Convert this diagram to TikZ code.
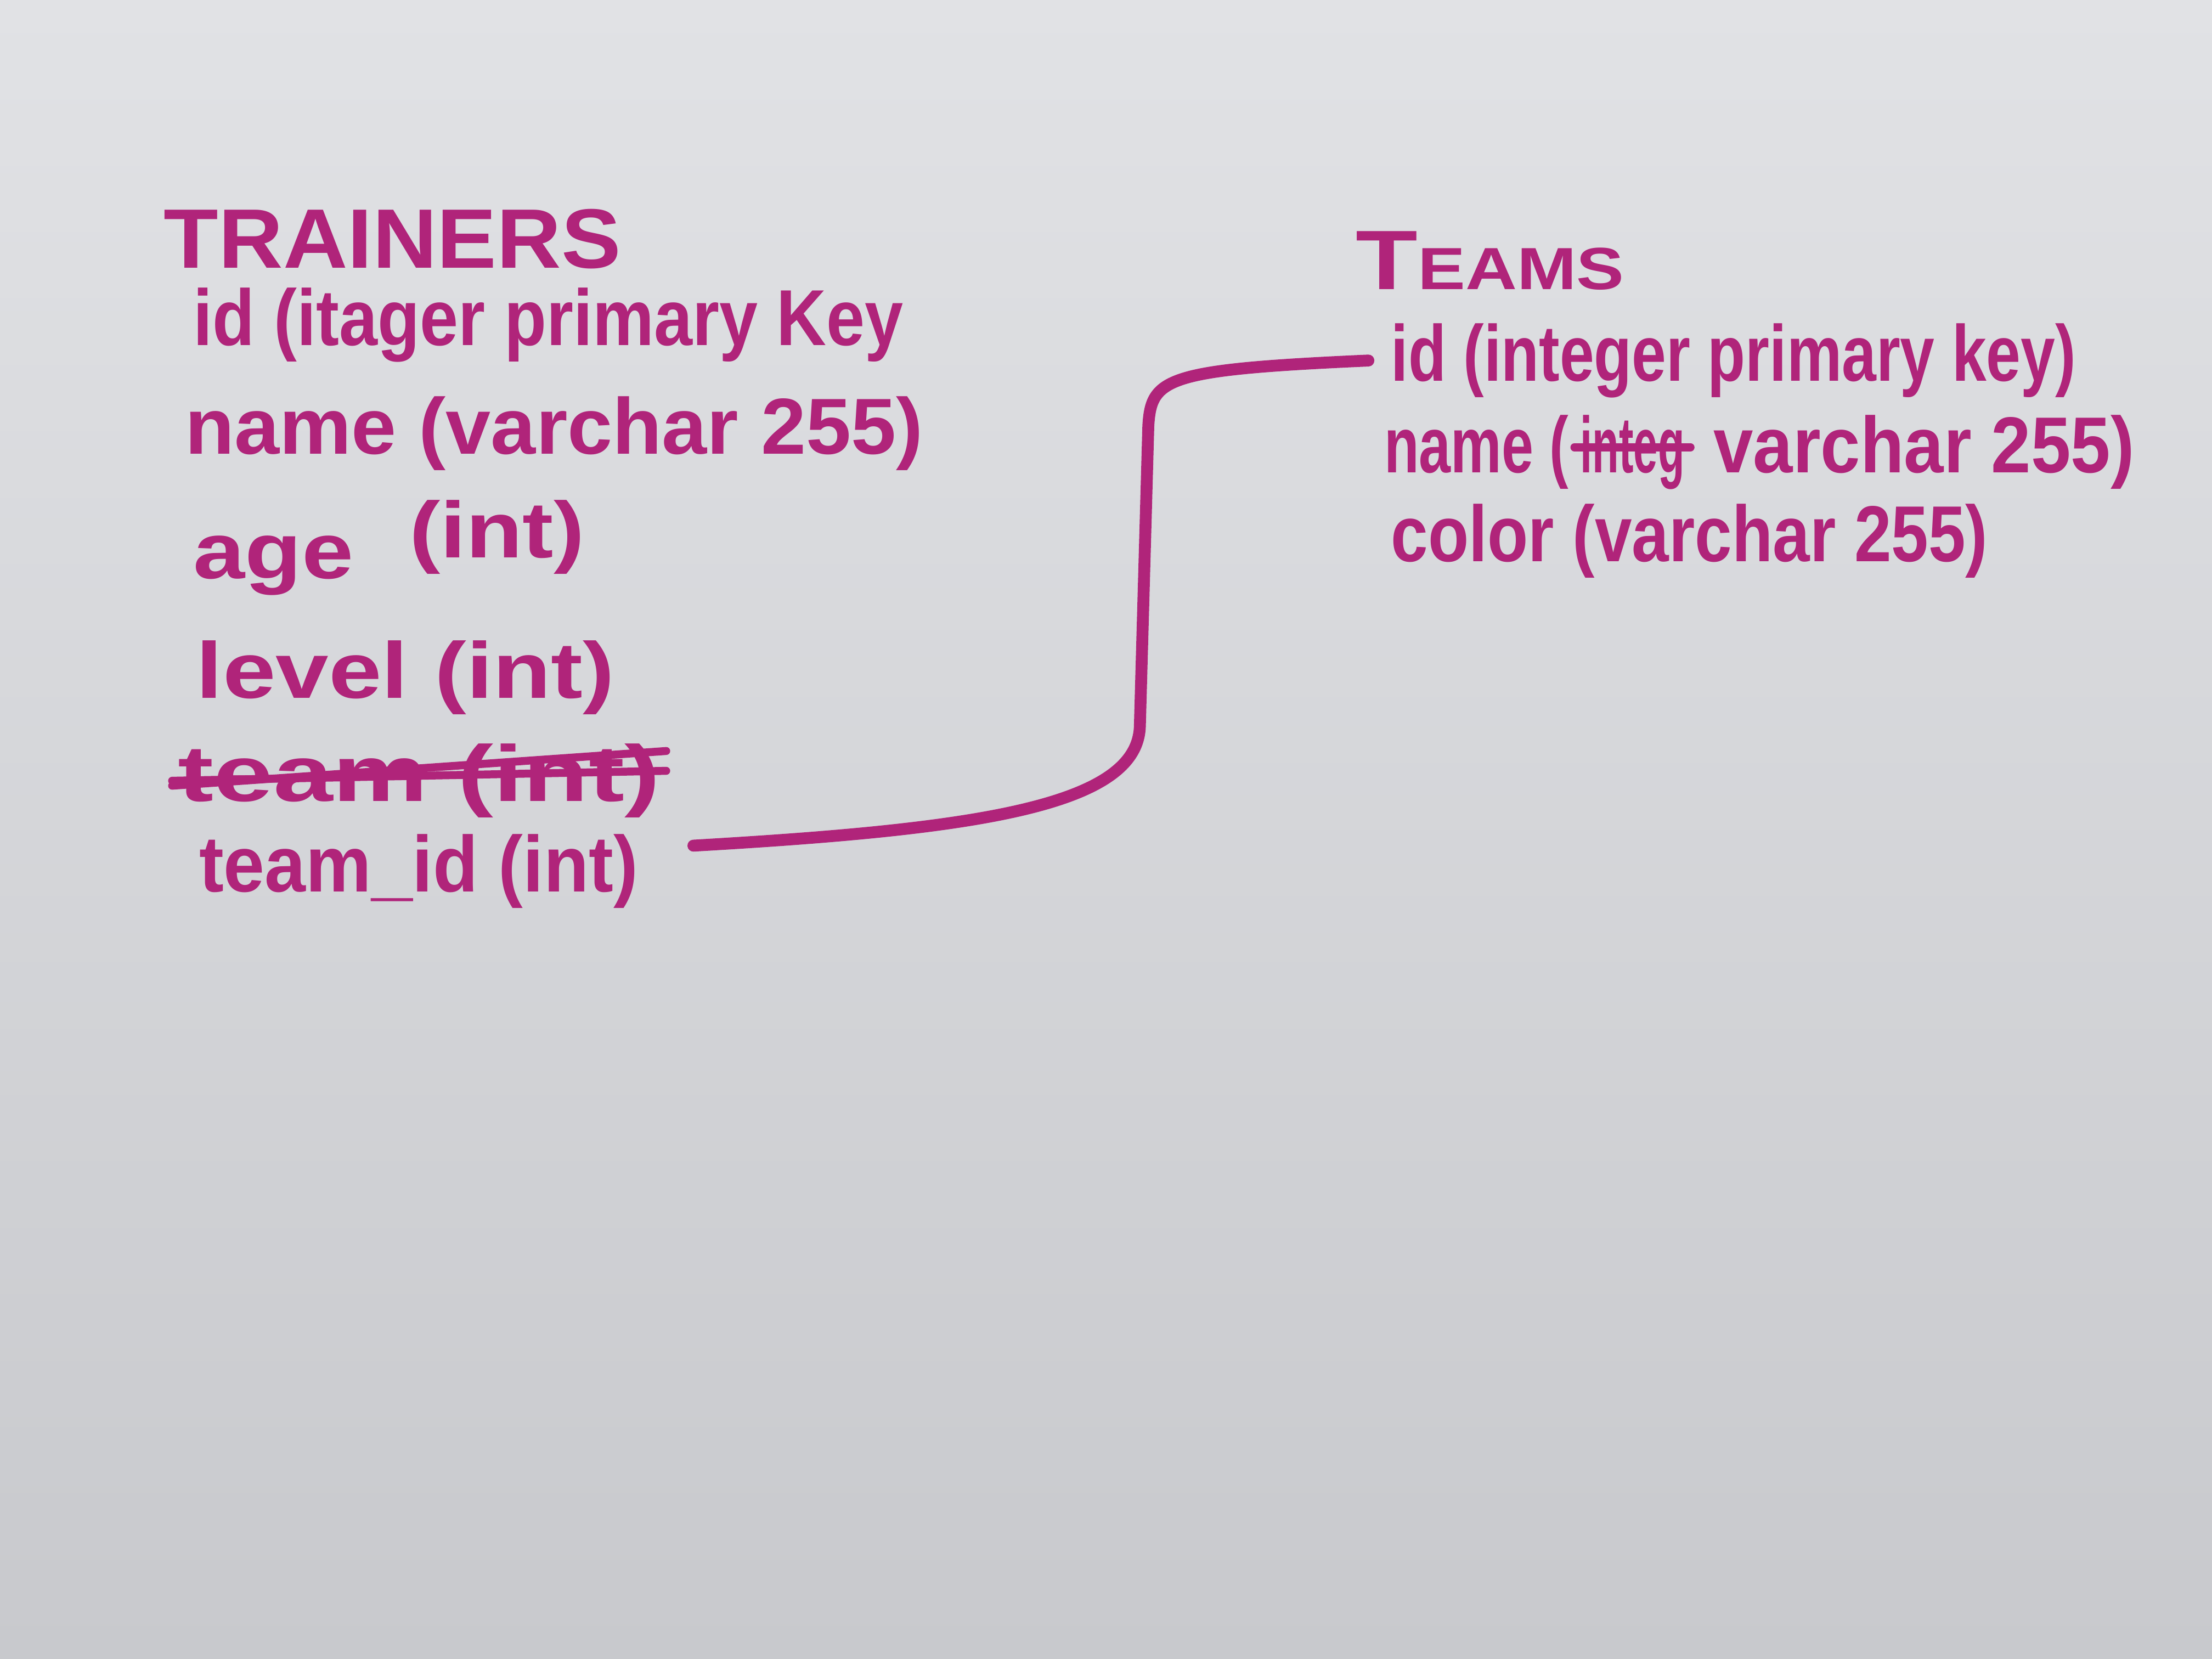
\documentclass[tikz,border=0pt]{standalone}
\usepackage{graphicx}
\usepackage{fontspec}
\setmainfont{Liberation Sans}
\usetikzlibrary{positioning}

\definecolor{ink}{RGB}{176,36,122}
\definecolor{paperhi}{RGB}{225,226,229}
\definecolor{papermid}{RGB}{219,220,223}
\definecolor{paperlo}{RGB}{200,201,205}

% squeeze or stretch handwriting width
\newcommand{\hx}[2]{\scalebox{#1}[1]{#2}}

\begin{document}
\begin{tikzpicture}[x=0.01cm, y=-0.01cm, line cap=round, line join=round,
    field/.style={anchor=base west, inner sep=1pt, text=ink, font=\fontsize{16}{18}\selectfont\bfseries},
    title/.style={field, font=\fontsize{17}{19}\selectfont\bfseries},
    link/.style={ink, line width=2.4pt},
    strike/.style={ink, line width=1.6pt}]

    % Paper
    \shade[top color=paperhi, middle color=papermid, bottom color=paperlo] (0,0) rectangle (1568,1176);
    \useasboundingbox (0,0) rectangle (1568,1176);

    % Trainers table
    \node[title] (trainers) at (112,190) {\hx{1.06}{TRAINERS}};
    \node[field] (trid) at (133,245) {\hx{0.87}{id (itager primary Key}};
    \node[field] (trname) at (127,322) {\hx{1.02}{name (varchar 255)}};
    \node[field] (trage) at (133,410) {\hx{1.17}{age\hspace{0.6em}\raisebox{0.5ex}{(int)}}};
    \node[field] (trlevel) at (135,495) {\hx{1.2}{level (int)}};
    \node[field] (trold) at (122,568) {\hx{1.35}{team (int)}};
    \node[field] (trfk) at (137,632) {\hx{0.93}{team\_id (int)}};

    % Teams table
    \node[title] (teams) at (957,205) {\hx{1.2}{T{\fontsize{12}{14}\selectfont EAMS}}};
    \node[field] (tmid) at (982,270) {\hx{0.78}{id (integer primary key)}};
    \node[field] (tmname) at (977,335) {\hx{0.72}{name (}};
    \node[field] (tminteg) at (tmname.base east) {\hx{0.55}{integ}};
    \node[field] (tmtype) at ([xshift=0.12cm]tminteg.base east) {\hx{0.9}{varchar 255)}};
    \node[field] (tmcolor) at (982,398) {\hx{0.84}{color (varchar 255)}};

    % Struck-out text
    \draw[strike] (trold.west) -- ([yshift=2pt]trold.east);
    \draw[strike] ([yshift=-1pt]trold.west) -- ([yshift=6pt]trold.east);
    \draw[strike] ([yshift=1pt]tminteg.west) -- ([yshift=1pt]tminteg.east);

    % Foreign key link
    \draw[link] ([shift={(35,-18)}]trfk.east) .. controls (690,588) and (806,572) .. (808,515)
        -- (814,302) .. controls (816,268) and (826,262) .. ([xshift=-0.12cm]tmid.west);
\end{tikzpicture}
\end{document}
